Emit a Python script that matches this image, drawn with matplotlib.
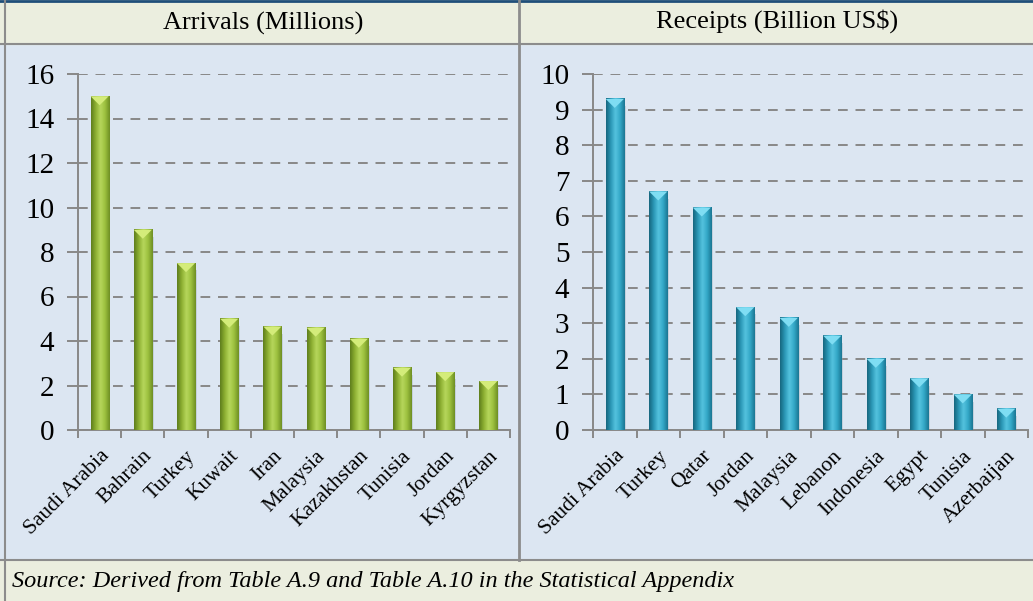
import numpy as np
import matplotlib.pyplot as plt
from matplotlib.colors import LinearSegmentedColormap
from matplotlib.patches import Rectangle, Polygon

arr_countries = ["Saudi Arabia", "Bahrain", "Turkey", "Kuwait", "Iran", "Malaysia",
                 "Kazakhstan", "Tunisia", "Jordan", "Kyrgyzstan"]
arr_values = [15.0, 9.0, 7.5, 5.0, 4.65, 4.6, 4.1, 2.8, 2.6, 2.2]

rec_countries = ["Saudi Arabia", "Turkey", "Qatar", "Jordan", "Malaysia", "Lebanon",
                 "Indonesia", "Egypt", "Tunisia", "Azerbaijan"]
rec_values = [9.3, 6.7, 6.25, 3.45, 3.15, 2.65, 2.0, 1.45, 1.0, 0.6]

W, H = 1033, 601
plt.rcParams['font.family'] = ['Liberation Serif', 'DejaVu Serif']

fig = plt.figure(figsize=(W / 100, H / 100), dpi=100)
fig.patch.set_facecolor("#DCE6F2")

def fx(px):
    return px / W

def fy(py):
    return 1 - py / H

# header and footer bands
bg = fig.add_axes([0, 0, 1, 1], zorder=-5)
bg.set_xlim(0, W)
bg.set_ylim(H, 0)
bg.axis("off")
bg.add_patch(Rectangle((0, 0), W, 44, color="#EBEEDF"))
bg.add_patch(Rectangle((0, 560), W, 41, color="#EBEEDF"))
bg.plot([0, W], [1, 1], color="#1F4E79", lw=2)
bg.plot([0, W], [44, 44], color="#8C8C8C", lw=1.5)
bg.plot([0, W], [560, 560], color="#8C8C8C", lw=1.5)
bg.plot([5, 5], [0, 601], color="#8C8C8C", lw=1.5)
bg.plot([519, 519], [0, 560], color="#8C8C8C", lw=2)

fig.text(fx(263), fy(23), "Arrivals (Millions)", ha="center", va="center", fontsize=19)
fig.text(fx(777), fy(21), "Receipts (Billion US$)", ha="center", va="center", fontsize=19)
fig.text(fx(12), fy(582), "Source: Derived from Table A.9 and Table A.10 in the Statistical Appendix",
         ha="left", va="center", fontsize=17.5, style="italic")

green = LinearSegmentedColormap.from_list("g", ["#5E7D1C", "#8DB032", "#B7D75C", "#9CC03E", "#6E8F24"])
blue = LinearSegmentedColormap.from_list("b", ["#16667E", "#2A97B6", "#55C3DF", "#33A8C7", "#1B7592"])


def draw_panel(rect, cats, vals, ymax, step, cmap, tip):
    ax = fig.add_axes(rect)
    ax.set_facecolor("none")
    n = len(cats)
    ax.set_xlim(-0.5, n - 0.5)
    ax.set_ylim(0, ymax)
    ax_h_px = rect[3] * H
    tri = 9 * ymax / ax_h_px
    grad = np.linspace(0, 1, 64).reshape(1, -1)
    w = 0.42
    for i, v in enumerate(vals):
        # soft shadow
        ax.add_patch(Rectangle((i - w / 2 + 0.04, 0), w, v - 0.02 * ymax,
                               color="#9AA7B5", alpha=0.35, zorder=2, lw=0))
        ax.imshow(grad, cmap=cmap, extent=[i - w / 2, i + w / 2, 0, v],
                  aspect="auto", zorder=3, interpolation="bicubic")
        ax.add_patch(Polygon([(i - w / 2, v), (i + w / 2, v), (i, v - tri)],
                             closed=True, color=tip, zorder=4, lw=0))
    ax.set_xlim(-0.5, n - 0.5)
    ax.set_ylim(0, ymax)
    ax.set_yticks(np.arange(0, ymax + step / 2, step))
    ax.yaxis.grid(True, linestyle=(0, (5, 4)), color="#888888", lw=1.4)
    ax.set_axisbelow(True)
    for s in ["top", "right"]:
        ax.spines[s].set_visible(False)
    for s in ["left", "bottom"]:
        ax.spines[s].set_color("#888888")
        ax.spines[s].set_linewidth(1.4)
    ax.tick_params(axis="y", length=8, width=1.4, color="#888888", labelsize=21, pad=9)
    ax.set_xticks(range(n))
    ax.set_xticklabels(cats, rotation=45, ha="right", rotation_mode="anchor", fontsize=15.5)
    ax.set_xticks(np.arange(-0.5, n, 1), minor=True)
    ax.tick_params(axis="x", which="major", length=0, pad=12)
    ax.tick_params(axis="x", which="minor", length=6, width=1.4, color="#888888")
    return ax


draw_panel([fx(78), fy(430), (510 - 78) / W, 356 / H], arr_countries, arr_values,
           16, 2, green, "#D4EC7A")
draw_panel([fx(593), fy(430), (1028 - 593) / W, 356 / H], rec_countries, rec_values,
           10, 1, blue, "#7FDDF3")

fig.savefig("out.png", dpi=100, facecolor=fig.get_facecolor())
